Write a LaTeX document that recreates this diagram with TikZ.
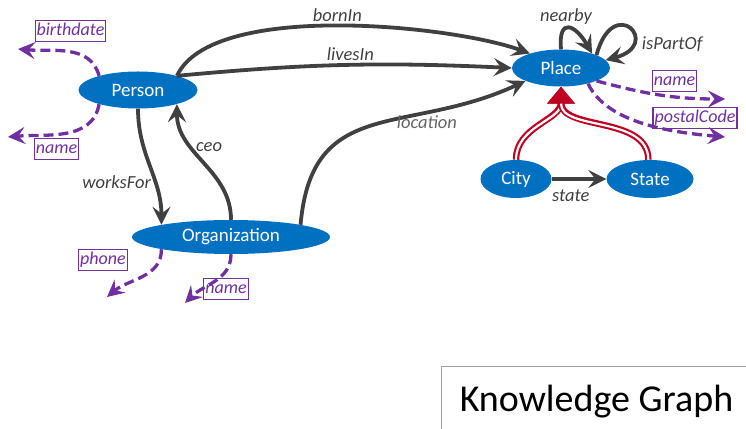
\documentclass[tikz,border=0pt]{standalone}
\usepackage{fontspec}
\setmainfont{Carlito}
\usetikzlibrary{shapes,arrows.meta,positioning}
\definecolor{entblue}{RGB}{0,112,192}
\definecolor{edgegray}{RGB}{64,64,64}
\definecolor{attrpurple}{RGB}{112,48,160}
\definecolor{subred}{RGB}{192,0,32}

\begin{document}
\begin{tikzpicture}[x=1pt, y=1pt, auto, on grid,
        ent/.style={ellipse, fill=entblue, text=white, inner sep=0pt, font=\fontsize{19}{22}\selectfont},
        attr/.style={rectangle, draw=attrpurple, line width=1.1pt, text=attrpurple, inner xsep=1.5pt, inner ysep=2pt, text height=13pt, text depth=4.5pt, font=\fontsize{18}{20}\selectfont\itshape},
        lbl/.style={text=edgegray, inner sep=2pt, font=\fontsize{18.5}{20}\selectfont\itshape},
        title/.style={rectangle, draw=gray!75, line width=1pt, minimum width=310pt, minimum height=70pt, font=\fontsize{38}{40}\selectfont},
        line/.style={draw=edgegray, line width=3.8pt, -{Stealth[length=18pt,width=18pt,inset=7pt]}},
        prop/.style={draw=attrpurple, line width=3.3pt, dash pattern=on 10pt off 5pt, -{Stealth[length=17pt,width=17pt,inset=6.5pt]}},
        sub/.style={draw=subred, line width=6.5pt, -{Triangle[length=17pt,width=27pt]}, postaction={draw=white, line width=2.2pt, shorten >=17pt, -}}]
        \useasboundingbox (0,0) rectangle (746,428);

        % classes
        \node [ent, minimum width=119pt, minimum height=37pt] (person) at (138,338) {Person};
        \node [ent, minimum width=198pt, minimum height=34pt, below right=147pt and 93pt of person] (org) {Organization};
        \node [ent, minimum width=98pt, minimum height=37pt, above right=22pt and 423pt of person] (place) {Place};
        \node [ent, minimum width=71pt, minimum height=38pt, below left=111pt and 45pt of place] (city) {City};
        \node [ent, minimum width=87pt, minimum height=38pt, right=134pt of city] (state) {State};

        % attributes
        \node [attr, above left=59pt and 67.5pt of person] (birthdate) {birthdate};
        \node [attr, below left=59pt and 81.5pt of person] (pname) {name};
        \node [attr, below left=23pt and 128pt of org] (phone) {phone};
        \node [attr, below left=52pt and 5pt of org] (oname) {name};
        \node [attr, below right=13pt and 113.5pt of place] (plname) {name};
        \node [attr, below right=50pt and 134pt of place] (postal) {postalCode};

        \coordinate [below left=18pt and 52.5pt of birthdate] (bdtip);
        \coordinate [above left=12pt and 48.5pt of pname] (pntip);
        \coordinate [below right=37pt and 4pt of phone] (phtip);
        \coordinate [below left=14pt and 41pt of oname] (ontip);
        \coordinate [below right=18pt and 50.5pt of plname] (plntip);
        \coordinate [below right=19pt and 30pt of postal] (pctip);

        \node [title, anchor=north west] (kg) at (441,62) {Knowledge Graph};

        % relations
        \path [line] (person.20) to[out=65, in=160, looseness=0.6] node [lbl, pos=0.5, above] {bornIn} (place.155);
        \path [line] (person.20) to[bend left=4] node [lbl, pos=0.52, above] {livesIn} (place.west);
        \path [line] (org.10) to[out=85, in=205, looseness=1.25] node [lbl, pos=0.7, below, text=black!60] {location} (place.200);
        \path [line] (person.south) to[out=-90, in=90] node [lbl, pos=0.65, left] {worksFor} (org.170);
        \path [line] (org.north) to[out=90, in=-90] node [lbl, pos=0.65, right] {ceo} (person.-20);
        \path [line] (place.north) to[out=95, in=120, distance=33pt] node [lbl, pos=0.4, above] {nearby} (place.25);
        \path [line] (place.20) to[out=75, in=15, out distance=65pt, in distance=60pt] node [lbl, pos=0.75, right, xshift=7pt] {isPartOf} (place.10);
        \path [line] (city.east) -- node [lbl, pos=0.35, below, yshift=-7pt] {state} (state.west);

        % subclasses
        \path [sub] (city.north) to[out=90, in=-90] (place.south);
        \path [sub] (state.95) to[out=90, in=-90] (place.south);

        % properties
        \path [prop] (person.160) to[out=105, in=-5] (bdtip);
        \path [prop] (person.200) to[out=-100, in=5] (pntip);
        \path [prop] (org.190) to[out=-90, in=40] (phtip);
        \path [prop] (org.south) to[out=-90, in=45] (ontip);
        \path [prop] (place.-20) to[out=-15, in=180] (plntip);
        \path [prop] (place.-30) to[out=-65, in=175, looseness=0.8] (pctip);
    \end{tikzpicture}
\end{document}
